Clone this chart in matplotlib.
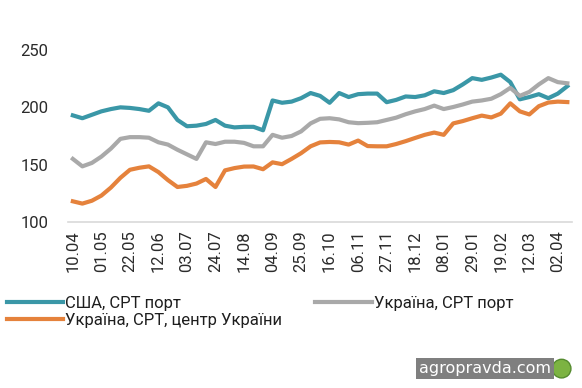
import matplotlib.pyplot as plt
from matplotlib.patches import Ellipse
import numpy as np

# weekly dates, one tick label every 3 weeks
tick_labels = ['10.04', '01.05', '22.05', '12.06', '03.07', '24.07', '14.08', '04.09', '25.09',
               '16.10', '06.11', '27.11', '18.12', '08.01', '29.01', '19.02', '12.03', '02.04']

usa_port = [193, 190.5, 193.5, 196.5, 198.5, 200, 199.5, 198.5, 197, 203.5,
            200, 189, 183.5, 184, 185.5, 189, 184, 182.5, 183, 183,
            180, 206, 204, 205, 208, 212.5, 210, 204, 212.5, 209,
            211.5, 212, 212, 204.5, 206.5, 209.5, 209, 210.5, 214, 212.5,
            215, 220, 225.5, 224, 226, 228.5, 222, 207, 209, 211.5,
            208, 212, 218.5]

ukr_port = [155, 148.5, 151.5, 157, 164, 172.5, 174, 174, 173.5, 169.5,
            167.5, 163, 159, 155, 169.5, 168, 170, 170, 169, 166,
            166, 176, 173.5, 175, 179, 186, 190, 190.5, 189.5, 187,
            186.2, 186.5, 187, 189, 191, 194, 196.5, 198.5, 201.5, 198.5,
            200.3, 202.5, 205, 206, 207.5, 211.5, 217, 210, 213.5, 220,
            225.5, 222, 221]

ukr_center = [118, 116, 118.5, 123, 130, 138.5, 145.5, 147.3, 148.5, 143.5,
              136.5, 130.5, 131.5, 133.5, 137.5, 130.5, 145, 147, 148.3, 148.4,
              146, 152, 150.4, 155, 160, 166, 169.4, 169.8, 169.5, 167.5,
              171, 166.2, 166, 166, 168, 170.5, 173.3, 176, 178, 176,
              186, 188, 190.5, 192.8, 191.2, 194.5, 203.5, 196.5, 193.8, 201,
              204.2, 205, 204.6]

plt.rcParams['font.family'] = ['Roboto', 'DejaVu Sans']

fig = plt.figure(figsize=(5.82, 3.88), dpi=100)
ax = fig.add_axes([0.117, 0.428, 0.866, 0.443])

x = np.arange(len(usa_port))
l1, = ax.plot(x, usa_port, color='#3a97a7', lw=3, solid_joinstyle='round', label='США, CPT порт')
l2, = ax.plot(x, ukr_port, color='#a9a9a9', lw=3, solid_joinstyle='round', label='Україна, CPT порт')
l3, = ax.plot(x, ukr_center, color='#e5823c', lw=3, solid_joinstyle='round', label='Україна, CPT, центр України')

ax.set_ylim(100, 250)
ax.set_yticks([100, 150, 200, 250])
ax.set_xlim(-0.5, len(x) - 0.5)
ax.set_xticks(np.arange(len(tick_labels)) * 3)
ax.set_xticklabels(tick_labels, rotation=90)

for s in ['top', 'right', 'left']:
    ax.spines[s].set_visible(False)
ax.spines['bottom'].set_color('#d9d9d9')
ax.spines['bottom'].set_linewidth(1.2)
ax.tick_params(length=0, labelsize=12, labelcolor='#2b2b2b')
ax.tick_params(axis='y', pad=14)
ax.tick_params(axis='x', pad=6)

fig.legend(handles=[l1, l3, l2], ncol=2, loc='upper left', bbox_to_anchor=(0.0, 0.255),
           frameon=False, fontsize=12, handlelength=3.4, handletextpad=0.1,
           columnspacing=2.0, labelspacing=0.15, borderaxespad=0, labelcolor='#1e1e1e')

# watermark
fig.text(0.947, 0.05, 'agropravda.com', ha='right', va='center', color='white', fontsize=11.5,
         family='DejaVu Sans',
         bbox=dict(boxstyle='square,pad=0.2', facecolor='#7f7f7f', edgecolor='none'))
fig.patches.append(Ellipse((0.965, 0.05), 0.032, 0.048, transform=fig.transFigure,
                           facecolor='#7cb342', edgecolor='#558b2f'))

fig.savefig('out.png', dpi=100)
